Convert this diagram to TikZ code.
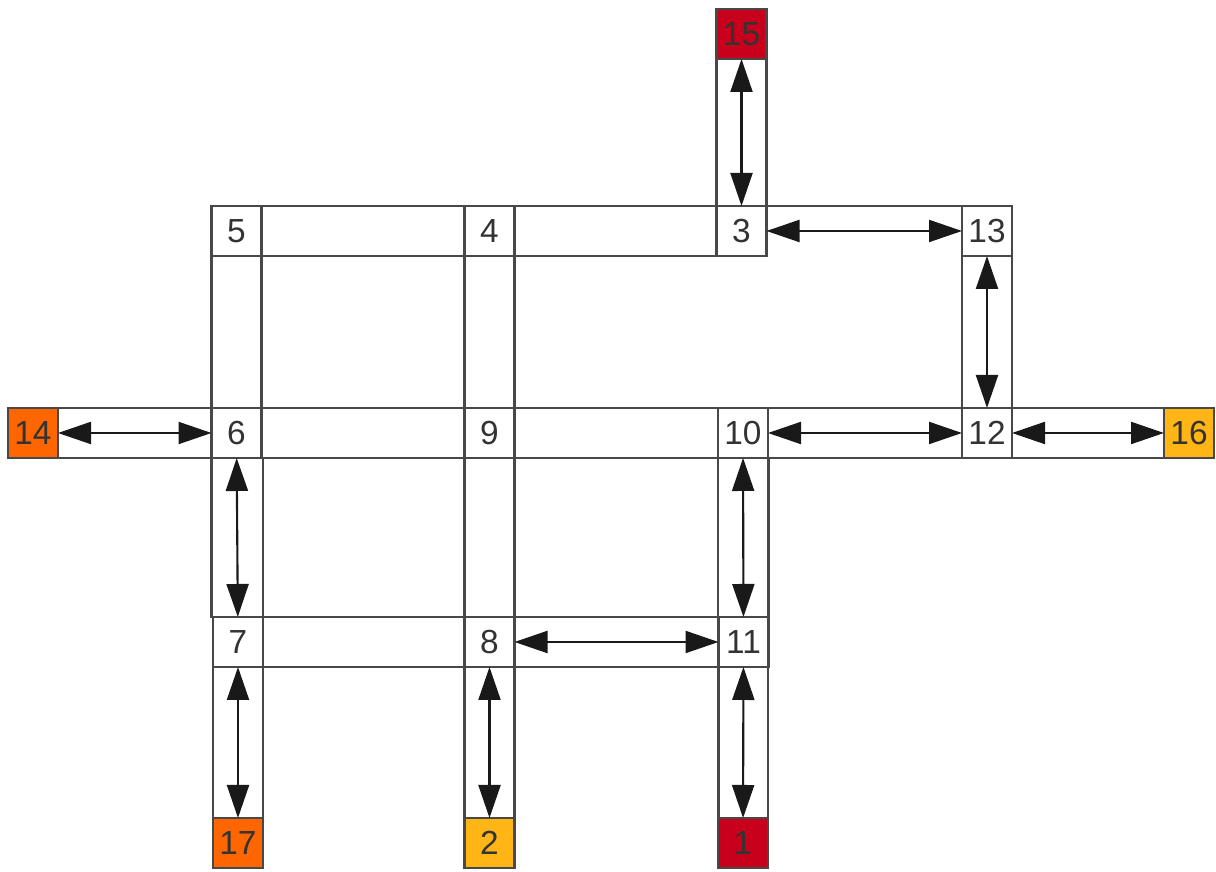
\documentclass[tikz,border=0pt]{standalone}
\usepackage{fontspec}
\setmainfont{Liberation Sans}
\usepackage{tikz}
\usetikzlibrary{arrows.meta,positioning,calc}
\definecolor{exitred}{RGB}{200,0,28}
\definecolor{exitorange}{RGB}{255,102,0}
\definecolor{exitamber}{RGB}{255,181,22}
\definecolor{roadgray}{RGB}{72,72,72}
\tikzset{
  cellbox/.style={draw=roadgray, line width=1.2pt, fill=white, minimum size=1cm,
                  inner sep=0pt, outer sep=0pt, text=black!80,
                  font=\fontsize{19}{21}\selectfont},
  exitbox/.style={cellbox, fill=#1},
  roadline/.style={draw=roadgray, line width=1.2pt},
  flowarr/.style={{Triangle[length=0.66cm,width=0.44cm]}-{Triangle[length=0.66cm,width=0.44cm]},
                  draw=black!90, line width=1.2pt},
}
\begin{document}
\begin{tikzpicture}[x=1cm,y=1cm]
\useasboundingbox (0,0) rectangle (24.32,17.44);
% cells
\node[exitbox=exitred] (n15) at (14.83,16.76) {15};
\node[cellbox] (n5) at (4.73,12.82) {5};
\node[cellbox] (n4) at (9.79,12.82) {4};
\node[cellbox] (n3) at (14.83,12.82) {3};
\node[cellbox] (n13) at (19.74,12.82) {13};
\node[exitbox=exitorange] (n14) at (0.66,8.78) {14};
\node[cellbox] (n6) at (4.73,8.78) {6};
\node[cellbox] (n9) at (9.79,8.78) {9};
\node[cellbox] (n10) at (14.86,8.78) {10};
\node[cellbox] (n12) at (19.74,8.78) {12};
\node[exitbox=exitamber] (n16) at (23.78,8.78) {16};
\node[cellbox] (n7) at (4.76,4.60) {7};
\node[cellbox] (n8) at (9.79,4.60) {8};
\node[cellbox] (n11) at (14.87,4.60) {11};
\node[exitbox=exitorange] (n17) at (4.76,0.58) {17};
\node[exitbox=exitamber] (n2) at (9.79,0.58) {2};
\node[exitbox=exitred] (n1) at (14.86,0.58) {1};
% roads
\draw[roadline] (n5.north west) rectangle (n3.south east);
\draw[roadline] (n3.north east) -- (n13.north west);
\draw[roadline] (n15.south west) rectangle (n3.north east);
\draw[roadline] (n13.south west) rectangle (n12.north east);
\draw[roadline] (n5.south west) rectangle (n6.north east);
\draw[roadline] (n4.south west) rectangle (n9.north east);
\draw[roadline] (n14.north east) rectangle (n16.south west);
\draw[roadline] (n6.south west) rectangle (n7.north east);
\draw[roadline] (n9.south west) rectangle (n8.north east);
\draw[roadline] (n10.south west) rectangle (n11.north east);
\draw[roadline] (n7.north west) rectangle (n11.south east);
\draw[roadline] (n7.south west) rectangle (n17.north east);
\draw[roadline] (n8.south west) rectangle (n2.north east);
\draw[roadline] (n11.south west) rectangle (n1.north east);
% links
\draw[flowarr] (n15) -- (n3);
\draw[flowarr] (n3) -- (n13);
\draw[flowarr] (n13) -- (n12);
\draw[flowarr] (n14) -- (n6);
\draw[flowarr] (n10) -- (n12);
\draw[flowarr] (n12) -- (n16);
\draw[flowarr] (n6) -- (n7);
\draw[flowarr] (n10) -- (n11);
\draw[flowarr] (n8) -- (n11);
\draw[flowarr] (n7) -- (n17);
\draw[flowarr] (n8) -- (n2);
\draw[flowarr] (n11) -- (n1);
\end{tikzpicture}
\end{document}
